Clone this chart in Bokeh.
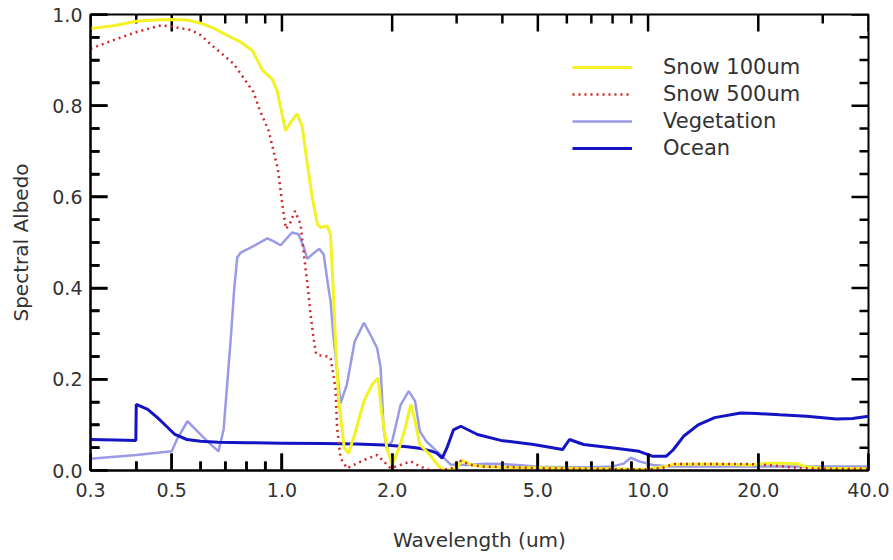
from bokeh.plotting import figure
from bokeh.models import CustomJSTickFormatter, FixedTicker, Legend, LegendItem
from bokeh.embed import file_html
from bokeh.resources import INLINE

# ---------------- data ----------------
wl_snow100 = [0.30, 0.35, 0.40, 0.45, 0.50, 0.55, 0.60, 0.65, 0.71, 0.77, 0.83, 0.887, 0.94,
              0.97, 1.023, 1.06, 1.10, 1.135, 1.173, 1.21, 1.25, 1.275, 1.33, 1.357, 1.38,
              1.40, 1.43, 1.48, 1.52, 1.58, 1.675, 1.765, 1.83, 1.87, 1.935, 2.0, 2.09, 2.17,
              2.25, 2.31, 2.38, 2.53, 2.71, 2.8, 3.0, 3.1, 3.3, 3.6, 4.0, 5.0, 6.0, 7.0, 8.0,
              9.0, 10.0, 11.0, 11.7, 14.0, 17.0, 19.0, 21.0, 23.0, 25.5, 27.0, 30.0, 40.0]
alb_snow100 = [0.969, 0.976, 0.985, 0.988, 0.989, 0.988, 0.981, 0.97, 0.954, 0.94, 0.921, 0.877,
               0.859, 0.833, 0.745, 0.765, 0.782, 0.756, 0.672, 0.598, 0.540, 0.533, 0.536,
               0.518, 0.40, 0.283, 0.152, 0.049, 0.038, 0.079, 0.152, 0.189, 0.203, 0.13, 0.049,
               0.013, 0.049, 0.093, 0.145, 0.108, 0.057, 0.035, 0.005, 0.0, 0.005, 0.022, 0.012,
               0.008, 0.007, 0.006, 0.005, 0.004, 0.004, 0.003, 0.003, 0.008, 0.013, 0.014,
               0.013, 0.012, 0.016, 0.016, 0.015, 0.008, 0.005, 0.004]

wl_snow500 = [0.30, 0.35, 0.398, 0.467, 0.496, 0.563, 0.60, 0.638, 0.738, 0.836, 0.87, 0.92,
              0.975, 1.0, 1.025, 1.05, 1.085, 1.124, 1.148, 1.177, 1.197, 1.22, 1.24, 1.28,
              1.33, 1.358, 1.40, 1.415, 1.446, 1.505, 1.675, 1.82, 1.895, 1.98, 2.25, 2.38,
              2.5, 2.65, 2.9, 3.05, 3.3, 3.6, 4.0, 5.0, 6.0, 7.0, 8.0, 9.0, 10.0, 11.0, 11.7,
              14.0, 19.0, 22.0, 26.0, 30.0, 40.0]
alb_snow500 = [0.925, 0.945, 0.961, 0.976, 0.974, 0.966, 0.955, 0.935, 0.892, 0.83, 0.79,
               0.745, 0.66, 0.59, 0.53, 0.54, 0.569, 0.54, 0.474, 0.40, 0.343, 0.29, 0.255,
               0.252, 0.25, 0.247, 0.181, 0.093, 0.027, 0.005, 0.023, 0.034, 0.02, 0.005, 0.02,
               0.009, 0.002, 0.0, 0.004, 0.022, 0.012, 0.008, 0.008, 0.005, 0.004, 0.004,
               0.003, 0.003, 0.002, 0.006, 0.014, 0.014, 0.014, 0.011, 0.005, 0.004, 0.004]

wl_veg = [0.30, 0.40, 0.50, 0.518, 0.552, 0.588, 0.626, 0.671, 0.693, 0.724, 0.741, 0.755,
          0.772, 0.836, 0.912, 0.947, 0.992, 1.065, 1.11, 1.148, 1.173, 1.21, 1.264, 1.30,
          1.34, 1.358, 1.38, 1.446, 1.505, 1.58, 1.675, 1.765, 1.82, 1.86, 1.895, 1.93, 2.0,
          2.11, 2.22, 2.31, 2.38, 2.48, 2.71, 2.89, 3.2, 3.6, 4.0, 4.4, 5.0, 6.0, 7.0, 8.0,
          8.58, 8.97, 9.45, 10.3, 11.5, 15.0, 20.0, 30.0, 40.0]
alb_veg = [0.026, 0.034, 0.042, 0.07, 0.108, 0.086, 0.064, 0.042, 0.09, 0.284, 0.40, 0.467,
           0.478, 0.492, 0.509, 0.503, 0.494, 0.522, 0.518, 0.489, 0.464, 0.474, 0.486, 0.474,
           0.40, 0.371, 0.30, 0.148, 0.189, 0.283, 0.324, 0.29, 0.268, 0.225, 0.093, 0.049,
           0.064, 0.144, 0.174, 0.152, 0.086, 0.064, 0.035, 0.013, 0.012, 0.015, 0.014, 0.012,
           0.008, 0.007, 0.007, 0.009, 0.015, 0.028, 0.02, 0.012, 0.009, 0.009, 0.009, 0.009,
           0.009]

wl_ocean = [0.30, 0.35, 0.399, 0.40, 0.43, 0.457, 0.475, 0.51, 0.55, 0.60, 0.67, 0.80, 1.0,
            1.3, 1.6, 1.9, 2.2, 2.4, 2.55, 2.65, 2.74, 2.82, 2.94, 3.08, 3.42, 3.96, 4.87,
            5.84, 6.1, 6.67, 8.26, 9.45, 10.3, 11.2, 11.7, 12.5, 13.7, 15.2, 17.9, 19.8,
            22.9, 27.1, 32.7, 36.2, 40.0]
alb_ocean = [0.068, 0.067, 0.066, 0.145, 0.134, 0.116, 0.103, 0.079, 0.068, 0.064, 0.062,
             0.061, 0.060, 0.059, 0.058, 0.056, 0.052, 0.048, 0.043, 0.038, 0.027, 0.049,
             0.089, 0.097, 0.079, 0.066, 0.057, 0.046, 0.068, 0.057, 0.048, 0.042, 0.031,
             0.031, 0.045, 0.075, 0.10, 0.116, 0.126, 0.125, 0.122, 0.119, 0.113, 0.114, 0.119]

x_major = [0.3, 0.5, 1.0, 2.0, 5.0, 10.0, 20.0, 40.0]
x_minor = [0.4, 0.6, 0.7, 0.8, 0.9, 3.0, 4.0, 6.0, 7.0, 8.0, 9.0, 30.0]
y_major = [0.0, 0.2, 0.4, 0.6, 0.8, 1.0]
y_minor = [0.05, 0.1, 0.15, 0.25, 0.3, 0.35, 0.45, 0.5, 0.55, 0.65, 0.7, 0.75, 0.85, 0.9, 0.95]

X_MIN, X_MAX = 0.3, 40.0
Y_MIN, Y_MAX = 0.0, 1.0

FONT = "DejaVu Sans"
TXT = "#333333"
FRAME_W, FRAME_H = 778, 456
MAJ, MIN = 17, 9          # tick lengths in pixels

p = figure(frame_width=FRAME_W, frame_height=FRAME_H, x_axis_type="log",
           x_range=(X_MIN, X_MAX), y_range=(Y_MIN, Y_MAX),
           output_backend="svg", toolbar_location=None,
           min_border_left=90, min_border_right=25, min_border_top=14, min_border_bottom=90)
p.grid.visible = False
p.outline_line_color = "black"
p.outline_line_width = 2
p.background_fill_color = None
p.border_fill_color = "white"

fmt = CustomJSTickFormatter(code="return tick.toFixed(1);")

for ax, ticker in ((p.xaxis[0], FixedTicker(ticks=x_major, minor_ticks=x_minor)),
                   (p.yaxis[0], FixedTicker(ticks=y_major, minor_ticks=y_minor))):
    ax.ticker = ticker
    ax.formatter = fmt
    ax.axis_line_color = "black"
    ax.axis_line_width = 2
    ax.major_tick_line_color = "black"
    ax.minor_tick_line_color = "black"
    ax.major_tick_line_width = 2.5
    ax.minor_tick_line_width = 2.5
    ax.major_tick_in = MAJ
    ax.major_tick_out = 0
    ax.minor_tick_in = MIN
    ax.minor_tick_out = 0
    ax.major_label_text_font = FONT
    ax.major_label_text_font_size = "19px"
    ax.major_label_text_color = TXT
    ax.axis_label_text_font = FONT
    ax.axis_label_text_font_style = "normal"
    ax.axis_label_text_color = TXT
    ax.axis_label_text_font_size = "20px"

xa = p.xaxis[0]
xa.axis_label = "Wavelength (um)"
xa.major_label_standoff = 12
xa.axis_label_standoff = 28

ya = p.yaxis[0]
ya.axis_label = "Spectral Albedo"
ya.major_label_standoff = 8
ya.axis_label_standoff = 16

# ---- inward tick marks drawn as short lines from the tick lists (all four edges) ----
xt = x_major + x_minor
x_px = [MAJ] * len(x_major) + [MIN] * len(x_minor)
yt = y_major + y_minor
y_px = [MAJ] * len(y_major) + [MIN] * len(y_minor)
tick_xs, tick_ys = [], []
for x, n in zip(xt, x_px):
    d = (Y_MAX - Y_MIN) * n / FRAME_H
    tick_xs += [[x, x], [x, x]]
    tick_ys += [[Y_MIN, Y_MIN + d], [Y_MAX, Y_MAX - d]]
for y, n in zip(yt, y_px):
    f = (X_MAX / X_MIN) ** (n / FRAME_W)
    tick_xs += [[X_MIN, X_MIN * f], [X_MAX, X_MAX / f]]
    tick_ys += [[y, y], [y, y]]
p.multi_line(xs=tick_xs, ys=tick_ys, line_color="black", line_width=2.5)

r_veg = p.line(wl_veg, alb_veg, line_color="#9a9ae6", line_width=2.5)
r_ocean = p.line(wl_ocean, alb_ocean, line_color="#1414c4", line_width=3)
r_s100 = p.line(wl_snow100, alb_snow100, line_color="#f2f224", line_width=3)
r_s500 = p.line(wl_snow500, alb_snow500, line_color="#cc2a2a", line_width=2.5,
                line_dash="2 4")

legend = Legend(items=[LegendItem(label="Snow 100um", renderers=[r_s100]),
                       LegendItem(label="Snow 500um", renderers=[r_s500]),
                       LegendItem(label="Vegetation", renderers=[r_veg]),
                       LegendItem(label="Ocean", renderers=[r_ocean])],
                location=(482, 310), border_line_color=None, background_fill_alpha=0,
                padding=0, margin=0, spacing=3, glyph_width=60, glyph_height=20,
                label_height=20, label_standoff=31, label_text_font=FONT,
                label_text_font_size="21px", label_text_color=TXT)
p.add_layout(legend)

open("out.html", "w").write(file_html(p, INLINE))
